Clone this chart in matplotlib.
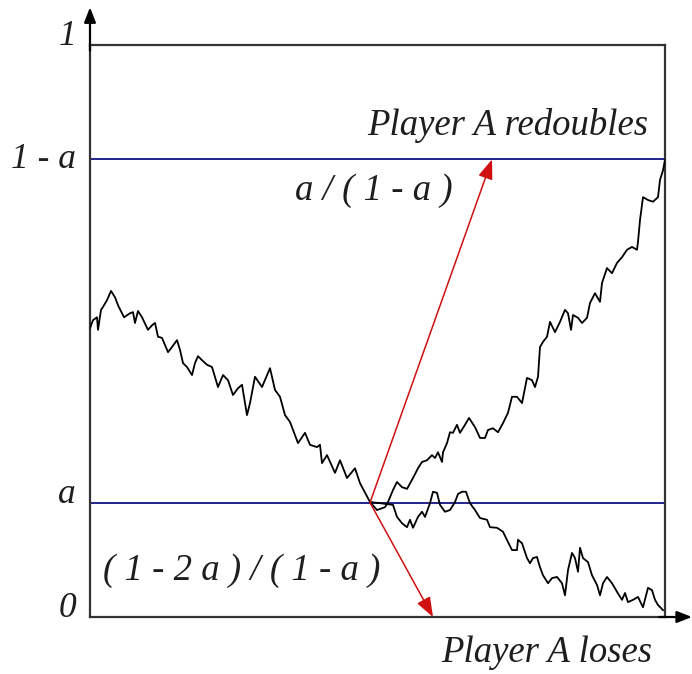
import numpy as np
import matplotlib as mpl

mpl.use("Agg")

import matplotlib.pyplot as plt

# ================================
# 数据
# ================================
A_LEVEL = 0.2

# 共同路径: 从左边到 a 线
t_common = [0, 3, 7, 8, 11, 13, 17, 21, 25, 28, 34, 40, 43, 45, 48, 52, 58, 62, 65, 68,
            72, 78, 82, 87, 90, 93, 97, 102, 105, 108, 112, 117, 122, 128, 133, 138, 143,
            148, 152, 157, 160, 165, 172, 180, 185, 190, 195, 200, 208, 215, 220, 227,
            230, 232, 237, 245, 250, 257, 265, 270, 280]
v_common = [0.505, 0.519, 0.524, 0.502, 0.537, 0.542, 0.554, 0.570, 0.559, 0.545, 0.524,
            0.531, 0.533, 0.514, 0.535, 0.524, 0.502, 0.510, 0.514, 0.490, 0.488, 0.463,
            0.472, 0.484, 0.467, 0.444, 0.437, 0.423, 0.444, 0.456, 0.449, 0.441, 0.437,
            0.402, 0.423, 0.414, 0.388, 0.400, 0.406, 0.353, 0.374, 0.420, 0.402, 0.435,
            0.397, 0.385, 0.353, 0.341, 0.304, 0.322, 0.301, 0.297, 0.301, 0.269, 0.283,
            0.252, 0.274, 0.243, 0.260, 0.234, 0.201]

# 上行分支: 到达 1 - a
t_up = [280, 287, 295, 298, 303, 307, 312, 317, 323, 328, 332, 337, 342, 345, 348, 352,
        353, 357, 360, 363, 367, 370, 375, 379, 385, 390, 395, 398, 403, 408, 413, 418,
        422, 427, 432, 437, 442, 445, 448, 450, 453, 457, 460, 465, 470, 475, 478, 481,
        483, 488, 492, 497, 500, 505, 510, 512, 517, 522, 527, 532, 537, 542, 547, 548,
        550, 553, 558, 563, 568, 570, 573, 575]
v_up = [0.201, 0.187, 0.192, 0.201, 0.222, 0.236, 0.227, 0.224, 0.243, 0.260, 0.271,
        0.274, 0.283, 0.278, 0.288, 0.271, 0.288, 0.304, 0.323, 0.322, 0.336, 0.322,
        0.336, 0.348, 0.332, 0.313, 0.313, 0.327, 0.330, 0.323, 0.339, 0.357, 0.385,
        0.385, 0.374, 0.418, 0.414, 0.402, 0.420, 0.472, 0.481, 0.490, 0.516, 0.498,
        0.516, 0.537, 0.531, 0.502, 0.528, 0.523, 0.514, 0.523, 0.549, 0.566, 0.551,
        0.584, 0.610, 0.601, 0.619, 0.629, 0.642, 0.647, 0.642, 0.656, 0.694, 0.734,
        0.729, 0.726, 0.734, 0.764, 0.781, 0.799]

# 下行分支: 到达 0
t_down = [280, 290, 303, 307, 312, 317, 320, 323, 328, 332, 335, 340, 343, 347, 350, 355,
          360, 365, 368, 372, 376, 380, 385, 390, 397, 400, 407, 413, 418, 422, 427, 428,
          432, 437, 440, 443, 447, 450, 453, 458, 462, 467, 472, 475, 478, 482, 485, 488,
          490, 493, 498, 502, 507, 510, 513, 517, 522, 527, 532, 535, 538, 543, 548, 553,
          558, 562, 565, 568, 573]
v_down = [0.201, 0.199, 0.196, 0.175, 0.164, 0.157, 0.170, 0.156, 0.175, 0.184, 0.175,
          0.199, 0.219, 0.217, 0.196, 0.184, 0.187, 0.201, 0.215, 0.219, 0.219, 0.199,
          0.187, 0.173, 0.170, 0.157, 0.156, 0.149, 0.131, 0.117, 0.117, 0.135, 0.129,
          0.103, 0.094, 0.103, 0.105, 0.087, 0.073, 0.059, 0.068, 0.070, 0.059, 0.038,
          0.082, 0.112, 0.103, 0.079, 0.121, 0.103, 0.096, 0.073, 0.056, 0.038, 0.059,
          0.070, 0.059, 0.044, 0.030, 0.042, 0.026, 0.030, 0.035, 0.017, 0.051, 0.047,
          0.030, 0.021, 0.012]

T_END = 575
ARROW_START = (280, A_LEVEL)
ARROW_UP_END = (402, 1 - A_LEVEL)
ARROW_DOWN_END = (343, 0.0)

ytick_vals = [1.0, 0.785, A_LEVEL, 0.0]
ytick_text = ["1", "1 - a", "a", "0"]

# ================================
# 样式
# ================================
plt.rcParams["font.family"] = "Liberation Serif"
plt.rcParams["font.style"] = "italic"
LABEL_SIZE = 25.5
NOTE_SIZE = 26.5
TEXT_COLOR = "#1e1e1e"
BOX_COLOR = "#333333"
BLUE = "#23238e"
RED = "#d01010"

fig = plt.figure(figsize=(6.92, 6.74), dpi=100)
ax = fig.add_axes([90 / 692, 57 / 674, 575 / 692, 572 / 674])
ax.set_xlim(0, T_END)
ax.set_ylim(0, 1)
ax.set_xticks([])
ax.set_yticks([])
for sp in ax.spines.values():
    sp.set_color(BOX_COLOR)
    sp.set_linewidth(1.6)

# 坐标轴箭头
ax.annotate("", xy=(0, 1.066), xytext=(0, 0.99), xycoords="axes fraction",
            arrowprops=dict(arrowstyle="-|>,head_length=0.9,head_width=0.35",
                            color="black", lw=1.6, shrinkA=0, shrinkB=0))
ax.annotate("", xy=(1.047, 0), xytext=(0.99, 0), xycoords="axes fraction",
            arrowprops=dict(arrowstyle="-|>,head_length=0.9,head_width=0.35",
                            color="black", lw=1.6, shrinkA=0, shrinkB=0))

# a 与 1 - a 水平线
ax.plot([0, T_END], [A_LEVEL, A_LEVEL], color=BLUE, lw=1.4, zorder=2)
ax.plot([0, T_END], [1 - A_LEVEL, 1 - A_LEVEL], color=BLUE, lw=1.4, zorder=2)

# 随机游走路径
ax.plot(t_common, v_common, color="black", lw=1.3, zorder=3)
ax.plot(t_up, v_up, color="black", lw=1.3, zorder=3)
ax.plot(t_down, v_down, color="black", lw=1.3, zorder=3)

# 红色箭头
for end in (ARROW_UP_END, ARROW_DOWN_END):
    ax.annotate("", xy=end, xytext=ARROW_START,
                arrowprops=dict(arrowstyle="-|>,head_length=1.2,head_width=0.45",
                                color=RED, lw=1.1, shrinkA=0, shrinkB=0),
                annotation_clip=False, zorder=4)

# y 轴标签
for v, s in zip(ytick_vals, ytick_text):
    ax.text(-0.024, v, s, transform=ax.get_yaxis_transform(), ha="right", va="baseline",
            fontsize=LABEL_SIZE, color=TEXT_COLOR)

# 文字注释
ax.text(558, 0.843, "Player A redoubles", ha="right", va="baseline",
        fontsize=NOTE_SIZE, color=TEXT_COLOR)
ax.text(363, 0.729, "a / ( 1 - a )", ha="right", va="baseline",
        fontsize=NOTE_SIZE, color=TEXT_COLOR)
ax.text(13, 0.065, "( 1 - 2 a ) / ( 1 - a )", ha="left", va="baseline",
        fontsize=NOTE_SIZE, color=TEXT_COLOR)
ax.text(562, -0.079, "Player A loses", ha="right", va="baseline",
        fontsize=NOTE_SIZE, color=TEXT_COLOR, clip_on=False)

plt.savefig("out.png", dpi=100)
plt.close()
